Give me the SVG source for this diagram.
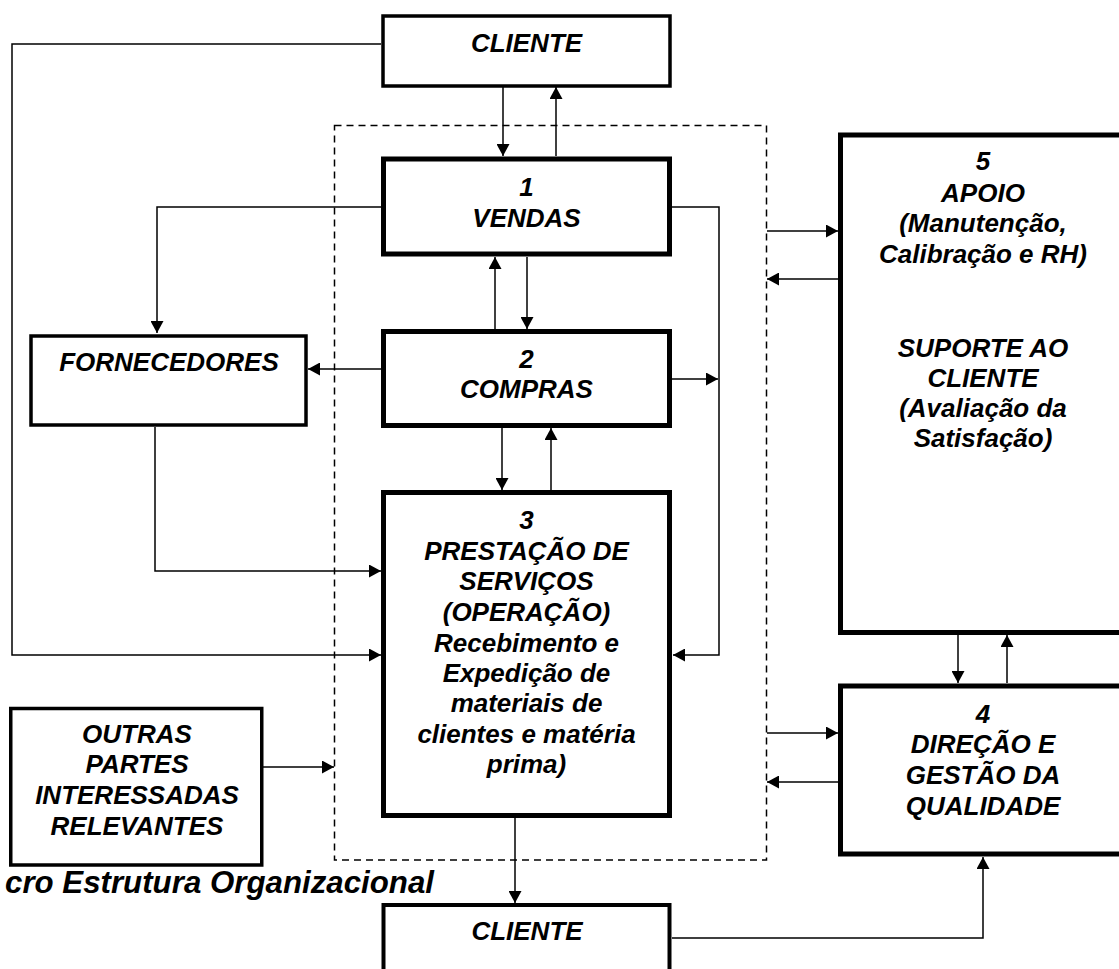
<svg xmlns="http://www.w3.org/2000/svg" width="1119" height="969" viewBox="0 0 1119 969">
<style>
.t{font-family:"Liberation Sans",Arial,sans-serif;font-weight:bold;font-style:italic;font-size:26px;text-anchor:middle;fill:#000}
.b1{fill:#fff;stroke:#000;stroke-width:3.5}
.b2{fill:#fff;stroke:#000;stroke-width:5}
.c{fill:none;stroke:#000;stroke-width:1.5}
.a{marker-end:url(#ah)}
.d{fill:none;stroke:#000;stroke-width:1.5;stroke-dasharray:7,5}
</style>
<defs>
<marker id="ah" markerUnits="userSpaceOnUse" markerWidth="12" markerHeight="13" refX="12" refY="6.5" orient="auto">
<path d="M0,0 L12,6.5 L0,13 z" fill="#000"/>
</marker>
</defs>
<rect width="1119" height="969" fill="#fff"/>
<g id="scope"><rect class="d" x="334.5" y="125.5" width="432" height="734.5"/></g>
<g id="connectors">
<path class="c a" d="M503,87 V156"/>
<path class="c a" d="M556,156 V87"/>
<path class="c a" d="M381,207 H157 V333"/>
<path class="c a" d="M672,207 H719 V655 H673"/>
<path class="c a" d="M495,329 V257"/>
<path class="c a" d="M527,257 V329"/>
<path class="c a" d="M381,369 H308"/>
<path class="c a" d="M672,379 H718"/>
<path class="c a" d="M502,428 V490"/>
<path class="c a" d="M551,490 V428"/>
<path class="c a" d="M155,427 V571 H381"/>
<path class="c a" d="M381,44 H12 V655 H381"/>
<path class="c a" d="M515,818 V903"/>
<path class="c a" d="M767,231 H838"/>
<path class="c a" d="M838,279 H767"/>
<path class="c a" d="M958,635 V683"/>
<path class="c a" d="M1007,683 V635"/>
<path class="c a" d="M767,733 H838"/>
<path class="c a" d="M838,782 H767"/>
<path class="c a" d="M672,938 H983 V857"/>
<path class="c a" d="M263,767 H334"/>
</g>
<g id="cliente-top"><rect class="b1" x="383" y="16" width="287" height="70"/><text class="t" x="526.5" y="52">CLIENTE</text></g>
<g id="vendas"><rect class="b2" x="383.5" y="159" width="286" height="95"/><text class="t" x="526.5" y="196">1</text><text class="t" x="526.5" y="227">VENDAS</text></g>
<g id="compras"><rect class="b2" x="383.5" y="331.5" width="286" height="94"/><text class="t" x="526.5" y="368">2</text><text class="t" x="526.5" y="398">COMPRAS</text></g>
<g id="fornecedores"><rect class="b1" x="31" y="336" width="275" height="89"/><text class="t" x="169" y="371">FORNECEDORES</text></g>
<g id="operacao"><rect class="b2" x="383.5" y="492.5" width="286" height="323"/>
<text class="t" x="526.5" y="529">3</text>
<text class="t" x="526.5" y="560">PRESTAÇÃO DE</text>
<text class="t" x="526.5" y="590">SERVIÇOS</text>
<text class="t" x="526.5" y="621">(OPERAÇÃO)</text>
<text class="t" x="526.5" y="652">Recebimento e</text>
<text class="t" x="526.5" y="682">Expedição de</text>
<text class="t" x="526.5" y="712">materiais de</text>
<text class="t" x="526.5" y="743">clientes e matéria</text>
<text class="t" x="526.5" y="773">prima)</text>
</g>
<g id="apoio"><rect class="b2" x="840.5" y="135" width="300" height="497.5"/>
<text class="t" x="983" y="170">5</text>
<text class="t" x="983" y="201.5">APOIO</text>
<text class="t" x="983" y="232">(Manutenção,</text>
<text class="t" x="983" y="262.5">Calibração e RH)</text>
<text class="t" x="983" y="357">SUPORTE AO</text>
<text class="t" x="983" y="387">CLIENTE</text>
<text class="t" x="983" y="417">(Avaliação da</text>
<text class="t" x="983" y="447">Satisfação)</text>
</g>
<g id="direcao"><rect class="b2" x="840.5" y="686" width="300" height="168"/>
<text class="t" x="983" y="723">4</text>
<text class="t" x="983" y="753">DIREÇÃO E</text>
<text class="t" x="983" y="784">GESTÃO DA</text>
<text class="t" x="983" y="815">QUALIDADE</text>
</g>
<g id="outras"><rect class="b1" x="10.75" y="708.5" width="251" height="156.5"/>
<text class="t" x="137" y="743">OUTRAS</text>
<text class="t" x="137" y="773">PARTES</text>
<text class="t" x="137" y="804">INTERESSADAS</text>
<text class="t" x="137" y="835">RELEVANTES</text>
</g>
<g id="cliente-bottom"><rect class="b1" x="383.5" y="905" width="286" height="100" style="stroke-width:4"/><text class="t" x="527" y="940">CLIENTE</text></g>
<text class="t" x="5" y="893" style="text-anchor:start;font-size:31px" textLength="429" lengthAdjust="spacingAndGlyphs">cro Estrutura Organizacional</text>
</svg>
